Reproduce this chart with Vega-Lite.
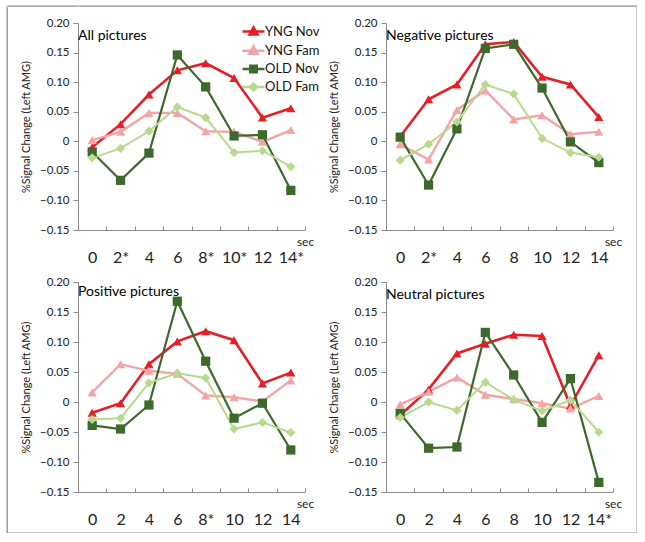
{
  "$schema": "https://vega.github.io/schema/vega-lite/v6.json",
  "background": "white",
  "padding": {"left": 7, "top": 6, "right": 0, "bottom": 0},
  "config": {
    "width": 630,
    "height": 527,
    "group": {"stroke": "#8e8e8e", "strokeWidth": 1.3},
    "font": "Lato",
    "view": {"stroke": null},
    "axis": {"grid": false, "domainColor": "#8a8a8a", "tickColor": "#8a8a8a", "labelColor": "#222222", "titleColor": "#222222", "titleFontWeight": "normal", "labelFont": "Lato", "titleFont": "Lato"},
    "axisX": {"labelFontSize": 16, "labelAngle": 0, "labelPadding": 23, "tickSize": -4, "tickBand": "extent", "titleFontSize": 12, "titleX": 227, "titleY": 11, "titleAlign": "center", "titleBaseline": "middle", "titleAnchor": "end"},
    "axisY": {"labelFontSize": 11.5, "tickSize": 5, "labelPadding": 4, "titleFontSize": 11, "titlePadding": 8},
    "title": {"anchor": "start", "frame": "group", "offset": -26, "fontSize": 14, "fontWeight": "normal", "color": "#000000", "font": "Lato"}
  },
  "data": {"values": [
    {"panel":"All pictures","series":"YNG Nov","sec":0,"label":"0","value":-0.010},
    {"panel":"All pictures","series":"YNG Nov","sec":2,"label":"2*","value":0.029},
    {"panel":"All pictures","series":"YNG Nov","sec":4,"label":"4","value":0.079},
    {"panel":"All pictures","series":"YNG Nov","sec":6,"label":"6","value":0.120},
    {"panel":"All pictures","series":"YNG Nov","sec":8,"label":"8*","value":0.132},
    {"panel":"All pictures","series":"YNG Nov","sec":10,"label":"10*","value":0.107},
    {"panel":"All pictures","series":"YNG Nov","sec":12,"label":"12","value":0.040},
    {"panel":"All pictures","series":"YNG Nov","sec":14,"label":"14*","value":0.056},
    {"panel":"All pictures","series":"YNG Fam","sec":0,"label":"0","value":0.002},
    {"panel":"All pictures","series":"YNG Fam","sec":2,"label":"2*","value":0.016},
    {"panel":"All pictures","series":"YNG Fam","sec":4,"label":"4","value":0.048},
    {"panel":"All pictures","series":"YNG Fam","sec":6,"label":"6","value":0.048},
    {"panel":"All pictures","series":"YNG Fam","sec":8,"label":"8*","value":0.017},
    {"panel":"All pictures","series":"YNG Fam","sec":10,"label":"10*","value":0.016},
    {"panel":"All pictures","series":"YNG Fam","sec":12,"label":"12","value":-0.001},
    {"panel":"All pictures","series":"YNG Fam","sec":14,"label":"14*","value":0.019},
    {"panel":"All pictures","series":"OLD Nov","sec":0,"label":"0","value":-0.018},
    {"panel":"All pictures","series":"OLD Nov","sec":2,"label":"2*","value":-0.066},
    {"panel":"All pictures","series":"OLD Nov","sec":4,"label":"4","value":-0.020},
    {"panel":"All pictures","series":"OLD Nov","sec":6,"label":"6","value":0.146},
    {"panel":"All pictures","series":"OLD Nov","sec":8,"label":"8*","value":0.092},
    {"panel":"All pictures","series":"OLD Nov","sec":10,"label":"10*","value":0.009},
    {"panel":"All pictures","series":"OLD Nov","sec":12,"label":"12","value":0.011},
    {"panel":"All pictures","series":"OLD Nov","sec":14,"label":"14*","value":-0.083},
    {"panel":"All pictures","series":"OLD Fam","sec":0,"label":"0","value":-0.028},
    {"panel":"All pictures","series":"OLD Fam","sec":2,"label":"2*","value":-0.012},
    {"panel":"All pictures","series":"OLD Fam","sec":4,"label":"4","value":0.017},
    {"panel":"All pictures","series":"OLD Fam","sec":6,"label":"6","value":0.058},
    {"panel":"All pictures","series":"OLD Fam","sec":8,"label":"8*","value":0.040},
    {"panel":"All pictures","series":"OLD Fam","sec":10,"label":"10*","value":-0.019},
    {"panel":"All pictures","series":"OLD Fam","sec":12,"label":"12","value":-0.016},
    {"panel":"All pictures","series":"OLD Fam","sec":14,"label":"14*","value":-0.043},
    {"panel":"Negative pictures","series":"YNG Nov","sec":0,"label":"0","value":0.008},
    {"panel":"Negative pictures","series":"YNG Nov","sec":2,"label":"2*","value":0.071},
    {"panel":"Negative pictures","series":"YNG Nov","sec":4,"label":"4","value":0.096},
    {"panel":"Negative pictures","series":"YNG Nov","sec":6,"label":"6","value":0.164},
    {"panel":"Negative pictures","series":"YNG Nov","sec":8,"label":"8","value":0.168},
    {"panel":"Negative pictures","series":"YNG Nov","sec":10,"label":"10","value":0.109},
    {"panel":"Negative pictures","series":"YNG Nov","sec":12,"label":"12","value":0.096},
    {"panel":"Negative pictures","series":"YNG Nov","sec":14,"label":"14","value":0.041},
    {"panel":"Negative pictures","series":"YNG Fam","sec":0,"label":"0","value":-0.005},
    {"panel":"Negative pictures","series":"YNG Fam","sec":2,"label":"2*","value":-0.031},
    {"panel":"Negative pictures","series":"YNG Fam","sec":4,"label":"4","value":0.053},
    {"panel":"Negative pictures","series":"YNG Fam","sec":6,"label":"6","value":0.086},
    {"panel":"Negative pictures","series":"YNG Fam","sec":8,"label":"8","value":0.037},
    {"panel":"Negative pictures","series":"YNG Fam","sec":10,"label":"10","value":0.044},
    {"panel":"Negative pictures","series":"YNG Fam","sec":12,"label":"12","value":0.012},
    {"panel":"Negative pictures","series":"YNG Fam","sec":14,"label":"14","value":0.016},
    {"panel":"Negative pictures","series":"OLD Nov","sec":0,"label":"0","value":0.007},
    {"panel":"Negative pictures","series":"OLD Nov","sec":2,"label":"2*","value":-0.074},
    {"panel":"Negative pictures","series":"OLD Nov","sec":4,"label":"4","value":0.021},
    {"panel":"Negative pictures","series":"OLD Nov","sec":6,"label":"6","value":0.157},
    {"panel":"Negative pictures","series":"OLD Nov","sec":8,"label":"8","value":0.164},
    {"panel":"Negative pictures","series":"OLD Nov","sec":10,"label":"10","value":0.090},
    {"panel":"Negative pictures","series":"OLD Nov","sec":12,"label":"12","value":-0.001},
    {"panel":"Negative pictures","series":"OLD Nov","sec":14,"label":"14","value":-0.036},
    {"panel":"Negative pictures","series":"OLD Fam","sec":0,"label":"0","value":-0.032},
    {"panel":"Negative pictures","series":"OLD Fam","sec":2,"label":"2*","value":-0.005},
    {"panel":"Negative pictures","series":"OLD Fam","sec":4,"label":"4","value":0.033},
    {"panel":"Negative pictures","series":"OLD Fam","sec":6,"label":"6","value":0.096},
    {"panel":"Negative pictures","series":"OLD Fam","sec":8,"label":"8","value":0.080},
    {"panel":"Negative pictures","series":"OLD Fam","sec":10,"label":"10","value":0.005},
    {"panel":"Negative pictures","series":"OLD Fam","sec":12,"label":"12","value":-0.019},
    {"panel":"Negative pictures","series":"OLD Fam","sec":14,"label":"14","value":-0.027},
    {"panel":"Positive pictures","series":"YNG Nov","sec":0,"label":"0","value":-0.018},
    {"panel":"Positive pictures","series":"YNG Nov","sec":2,"label":"2","value":-0.002},
    {"panel":"Positive pictures","series":"YNG Nov","sec":4,"label":"4","value":0.063},
    {"panel":"Positive pictures","series":"YNG Nov","sec":6,"label":"6","value":0.101},
    {"panel":"Positive pictures","series":"YNG Nov","sec":8,"label":"8*","value":0.118},
    {"panel":"Positive pictures","series":"YNG Nov","sec":10,"label":"10","value":0.103},
    {"panel":"Positive pictures","series":"YNG Nov","sec":12,"label":"12","value":0.031},
    {"panel":"Positive pictures","series":"YNG Nov","sec":14,"label":"14","value":0.049},
    {"panel":"Positive pictures","series":"YNG Fam","sec":0,"label":"0","value":0.016},
    {"panel":"Positive pictures","series":"YNG Fam","sec":2,"label":"2","value":0.063},
    {"panel":"Positive pictures","series":"YNG Fam","sec":4,"label":"4","value":0.052},
    {"panel":"Positive pictures","series":"YNG Fam","sec":6,"label":"6","value":0.047},
    {"panel":"Positive pictures","series":"YNG Fam","sec":8,"label":"8*","value":0.011},
    {"panel":"Positive pictures","series":"YNG Fam","sec":10,"label":"10","value":0.008},
    {"panel":"Positive pictures","series":"YNG Fam","sec":12,"label":"12","value":0.001},
    {"panel":"Positive pictures","series":"YNG Fam","sec":14,"label":"14","value":0.036},
    {"panel":"Positive pictures","series":"OLD Nov","sec":0,"label":"0","value":-0.039},
    {"panel":"Positive pictures","series":"OLD Nov","sec":2,"label":"2","value":-0.045},
    {"panel":"Positive pictures","series":"OLD Nov","sec":4,"label":"4","value":-0.005},
    {"panel":"Positive pictures","series":"OLD Nov","sec":6,"label":"6","value":0.168},
    {"panel":"Positive pictures","series":"OLD Nov","sec":8,"label":"8*","value":0.068},
    {"panel":"Positive pictures","series":"OLD Nov","sec":10,"label":"10","value":-0.027},
    {"panel":"Positive pictures","series":"OLD Nov","sec":12,"label":"12","value":-0.002},
    {"panel":"Positive pictures","series":"OLD Nov","sec":14,"label":"14","value":-0.080},
    {"panel":"Positive pictures","series":"OLD Fam","sec":0,"label":"0","value":-0.029},
    {"panel":"Positive pictures","series":"OLD Fam","sec":2,"label":"2","value":-0.027},
    {"panel":"Positive pictures","series":"OLD Fam","sec":4,"label":"4","value":0.032},
    {"panel":"Positive pictures","series":"OLD Fam","sec":6,"label":"6","value":0.048},
    {"panel":"Positive pictures","series":"OLD Fam","sec":8,"label":"8*","value":0.040},
    {"panel":"Positive pictures","series":"OLD Fam","sec":10,"label":"10","value":-0.045},
    {"panel":"Positive pictures","series":"OLD Fam","sec":12,"label":"12","value":-0.034},
    {"panel":"Positive pictures","series":"OLD Fam","sec":14,"label":"14","value":-0.051},
    {"panel":"Neutral pictures","series":"YNG Nov","sec":0,"label":"0","value":-0.022},
    {"panel":"Neutral pictures","series":"YNG Nov","sec":2,"label":"2","value":0.021},
    {"panel":"Neutral pictures","series":"YNG Nov","sec":4,"label":"4","value":0.081},
    {"panel":"Neutral pictures","series":"YNG Nov","sec":6,"label":"6","value":0.097},
    {"panel":"Neutral pictures","series":"YNG Nov","sec":8,"label":"8","value":0.112},
    {"panel":"Neutral pictures","series":"YNG Nov","sec":10,"label":"10","value":0.110},
    {"panel":"Neutral pictures","series":"YNG Nov","sec":12,"label":"12","value":-0.006},
    {"panel":"Neutral pictures","series":"YNG Nov","sec":14,"label":"14*","value":0.078},
    {"panel":"Neutral pictures","series":"YNG Fam","sec":0,"label":"0","value":-0.004},
    {"panel":"Neutral pictures","series":"YNG Fam","sec":2,"label":"2","value":0.017},
    {"panel":"Neutral pictures","series":"YNG Fam","sec":4,"label":"4","value":0.041},
    {"panel":"Neutral pictures","series":"YNG Fam","sec":6,"label":"6","value":0.012},
    {"panel":"Neutral pictures","series":"YNG Fam","sec":8,"label":"8","value":0.005},
    {"panel":"Neutral pictures","series":"YNG Fam","sec":10,"label":"10","value":-0.002},
    {"panel":"Neutral pictures","series":"YNG Fam","sec":12,"label":"12","value":-0.011},
    {"panel":"Neutral pictures","series":"YNG Fam","sec":14,"label":"14*","value":0.010},
    {"panel":"Neutral pictures","series":"OLD Nov","sec":0,"label":"0","value":-0.019},
    {"panel":"Neutral pictures","series":"OLD Nov","sec":2,"label":"2","value":-0.077},
    {"panel":"Neutral pictures","series":"OLD Nov","sec":4,"label":"4","value":-0.075},
    {"panel":"Neutral pictures","series":"OLD Nov","sec":6,"label":"6","value":0.116},
    {"panel":"Neutral pictures","series":"OLD Nov","sec":8,"label":"8","value":0.045},
    {"panel":"Neutral pictures","series":"OLD Nov","sec":10,"label":"10","value":-0.034},
    {"panel":"Neutral pictures","series":"OLD Nov","sec":12,"label":"12","value":0.039},
    {"panel":"Neutral pictures","series":"OLD Nov","sec":14,"label":"14*","value":-0.134},
    {"panel":"Neutral pictures","series":"OLD Fam","sec":0,"label":"0","value":-0.026},
    {"panel":"Neutral pictures","series":"OLD Fam","sec":2,"label":"2","value":0.000},
    {"panel":"Neutral pictures","series":"OLD Fam","sec":4,"label":"4","value":-0.014},
    {"panel":"Neutral pictures","series":"OLD Fam","sec":6,"label":"6","value":0.033},
    {"panel":"Neutral pictures","series":"OLD Fam","sec":8,"label":"8","value":0.004},
    {"panel":"Neutral pictures","series":"OLD Fam","sec":10,"label":"10","value":-0.015},
    {"panel":"Neutral pictures","series":"OLD Fam","sec":12,"label":"12","value":0.003},
    {"panel":"Neutral pictures","series":"OLD Fam","sec":14,"label":"14*","value":-0.050}
  ]},
  "spacing": 12,
  "hconcat": [
    {"width": 1, "height": 1, "data": {"values": [{"k": 1}]}, "mark": {"type": "point", "size": 0, "opacity": 0}, "view": {"fill": "white", "stroke": null}},
    {
      "spacing": 10,
      "vconcat": [
        {"width": 1, "height": 1, "data": {"values": [{"k": 1}]}, "mark": {"type": "point", "size": 0, "opacity": 0}, "view": {"fill": "white", "stroke": null}},
        {
          "columns": 2,
          "spacing": {"row": 11, "column": 8},
          "resolve": {"scale": {"x": "independent"}, "legend": {"color": "independent"}},
          "concat": [
            {
              "width": 227, "height": 207,
              "title": {"text": "All pictures"},
              "transform": [{"filter": "datum.panel === 'All pictures'"}],
              "encoding": {
                "x": {"field": "label", "type": "ordinal", "sort": {"field": "sec", "op": "min"}, "scale": {"type": "band", "paddingInner": 0, "paddingOuter": 0}, "axis": {"title": "sec"}},
                "y": {"field": "value", "type": "quantitative", "scale": {"domain": [-0.15, 0.2], "nice": false, "zero": false}, "axis": {"title": "%Signal Change (Left AMG)", "values": [-0.15, -0.1, -0.05, 0, 0.05, 0.1, 0.15, 0.2], "labelExpr": "datum.value === 0 ? '0' : format(datum.value, '.2f')"}},
                "color": {"field": "series", "type": "nominal", "scale": {"domain": ["YNG Nov", "YNG Fam", "OLD Nov", "OLD Fam"], "range": ["#e41f27", "#f3a4a5", "#3d6a2c", "#b8da8e"]},
                  "legend": {"orient": "none", "legendX": 169, "legendY": 2, "title": null, "padding": 0, "symbolSize": 100, "labelFontSize": 13, "labelFont": "Lato", "labelColor": "#111111", "labelOffset": 5, "rowPadding": 1.2,
                    "encode": {"symbols": {"update": {
                      "shape": {"signal": "datum.value === 'OLD Nov' ? 'M-2.2,0H2.2M-0.65,-0.65H0.65V0.65H-0.65Z' : datum.value === 'OLD Fam' ? 'M-2.2,0H2.2M0,-0.7L0.7,0L0,0.7L-0.7,0Z' : 'M-2.2,0H2.2M0,-0.85L0.8,0.6H-0.8Z'"},
                      "fill": {"scale": "color", "field": "value"},
                      "stroke": {"scale": "color", "field": "value"},
                      "strokeWidth": {"value": 2.5},
                      "opacity": {"value": 1}
                    }}}}}
              },
              "layer": [
                {"mark": {"type": "line"}, "encoding": {"strokeWidth": {"field": "series", "type": "nominal", "scale": {"domain": ["YNG Nov", "YNG Fam", "OLD Nov", "OLD Fam"], "range": [2.6, 2, 2.6, 2]}, "legend": null}}},
                {"mark": {"type": "point", "filled": true, "opacity": 1}, "encoding": {
                  "shape": {"field": "series", "type": "nominal", "scale": {"domain": ["YNG Nov", "YNG Fam", "OLD Nov", "OLD Fam"], "range": ["triangle-up", "triangle-up", "square", "diamond"]}, "legend": null},
                  "size": {"field": "series", "type": "nominal", "scale": {"domain": ["YNG Nov", "YNG Fam", "OLD Nov", "OLD Fam"], "range": [85, 85, 80, 55]}, "legend": null}}}
              ]
            },
            {
              "width": 227, "height": 207,
              "title": {"text": "Negative pictures"},
              "transform": [{"filter": "datum.panel === 'Negative pictures'"}],
              "encoding": {
                "x": {"field": "label", "type": "ordinal", "sort": {"field": "sec", "op": "min"}, "scale": {"type": "band", "paddingInner": 0, "paddingOuter": 0}, "axis": {"title": "sec"}},
                "y": {"field": "value", "type": "quantitative", "scale": {"domain": [-0.15, 0.2], "nice": false, "zero": false}, "axis": {"title": "%Signal Change (Left AMG)", "values": [-0.15, -0.1, -0.05, 0, 0.05, 0.1, 0.15, 0.2], "labelExpr": "datum.value === 0 ? '0' : format(datum.value, '.2f')"}},
                "color": {"field": "series", "type": "nominal", "scale": {"domain": ["YNG Nov", "YNG Fam", "OLD Nov", "OLD Fam"], "range": ["#e41f27", "#f3a4a5", "#3d6a2c", "#b8da8e"]}, "legend": null}
              },
              "layer": [
                {"mark": {"type": "line"}, "encoding": {"strokeWidth": {"field": "series", "type": "nominal", "scale": {"domain": ["YNG Nov", "YNG Fam", "OLD Nov", "OLD Fam"], "range": [2.6, 2, 2.6, 2]}, "legend": null}}},
                {"mark": {"type": "point", "filled": true, "opacity": 1}, "encoding": {
                  "shape": {"field": "series", "type": "nominal", "scale": {"domain": ["YNG Nov", "YNG Fam", "OLD Nov", "OLD Fam"], "range": ["triangle-up", "triangle-up", "square", "diamond"]}, "legend": null},
                  "size": {"field": "series", "type": "nominal", "scale": {"domain": ["YNG Nov", "YNG Fam", "OLD Nov", "OLD Fam"], "range": [85, 85, 80, 55]}, "legend": null}}}
              ]
            },
            {
              "width": 227, "height": 210,
              "title": {"text": "Positive pictures", "offset": -23},
              "transform": [{"filter": "datum.panel === 'Positive pictures'"}],
              "encoding": {
                "x": {"field": "label", "type": "ordinal", "sort": {"field": "sec", "op": "min"}, "scale": {"type": "band", "paddingInner": 0, "paddingOuter": 0}, "axis": {"title": "sec"}},
                "y": {"field": "value", "type": "quantitative", "scale": {"domain": [-0.15, 0.2], "nice": false, "zero": false}, "axis": {"title": "%Signal Change (Left AMG)", "values": [-0.15, -0.1, -0.05, 0, 0.05, 0.1, 0.15, 0.2], "labelExpr": "datum.value === 0 ? '0' : format(datum.value, '.2f')"}},
                "color": {"field": "series", "type": "nominal", "scale": {"domain": ["YNG Nov", "YNG Fam", "OLD Nov", "OLD Fam"], "range": ["#e41f27", "#f3a4a5", "#3d6a2c", "#b8da8e"]}, "legend": null}
              },
              "layer": [
                {"mark": {"type": "line"}, "encoding": {"strokeWidth": {"field": "series", "type": "nominal", "scale": {"domain": ["YNG Nov", "YNG Fam", "OLD Nov", "OLD Fam"], "range": [2.6, 2, 2.6, 2]}, "legend": null}}},
                {"mark": {"type": "point", "filled": true, "opacity": 1}, "encoding": {
                  "shape": {"field": "series", "type": "nominal", "scale": {"domain": ["YNG Nov", "YNG Fam", "OLD Nov", "OLD Fam"], "range": ["triangle-up", "triangle-up", "square", "diamond"]}, "legend": null},
                  "size": {"field": "series", "type": "nominal", "scale": {"domain": ["YNG Nov", "YNG Fam", "OLD Nov", "OLD Fam"], "range": [85, 85, 80, 55]}, "legend": null}}}
              ]
            },
            {
              "width": 227, "height": 210,
              "title": {"text": "Neutral pictures"},
              "transform": [{"filter": "datum.panel === 'Neutral pictures'"}],
              "encoding": {
                "x": {"field": "label", "type": "ordinal", "sort": {"field": "sec", "op": "min"}, "scale": {"type": "band", "paddingInner": 0, "paddingOuter": 0}, "axis": {"title": "sec"}},
                "y": {"field": "value", "type": "quantitative", "scale": {"domain": [-0.15, 0.2], "nice": false, "zero": false}, "axis": {"title": "%Signal Change (Left AMG)", "values": [-0.15, -0.1, -0.05, 0, 0.05, 0.1, 0.15, 0.2], "labelExpr": "datum.value === 0 ? '0' : format(datum.value, '.2f')"}},
                "color": {"field": "series", "type": "nominal", "scale": {"domain": ["YNG Nov", "YNG Fam", "OLD Nov", "OLD Fam"], "range": ["#e41f27", "#f3a4a5", "#3d6a2c", "#b8da8e"]}, "legend": null}
              },
              "layer": [
                {"mark": {"type": "line"}, "encoding": {"strokeWidth": {"field": "series", "type": "nominal", "scale": {"domain": ["YNG Nov", "YNG Fam", "OLD Nov", "OLD Fam"], "range": [2.6, 2, 2.6, 2]}, "legend": null}}},
                {"mark": {"type": "point", "filled": true, "opacity": 1}, "encoding": {
                  "shape": {"field": "series", "type": "nominal", "scale": {"domain": ["YNG Nov", "YNG Fam", "OLD Nov", "OLD Fam"], "range": ["triangle-up", "triangle-up", "square", "diamond"]}, "legend": null},
                  "size": {"field": "series", "type": "nominal", "scale": {"domain": ["YNG Nov", "YNG Fam", "OLD Nov", "OLD Fam"], "range": [85, 85, 80, 55]}, "legend": null}}}
              ]
            }
          ]
        }
      ]
    }
  ]
}
